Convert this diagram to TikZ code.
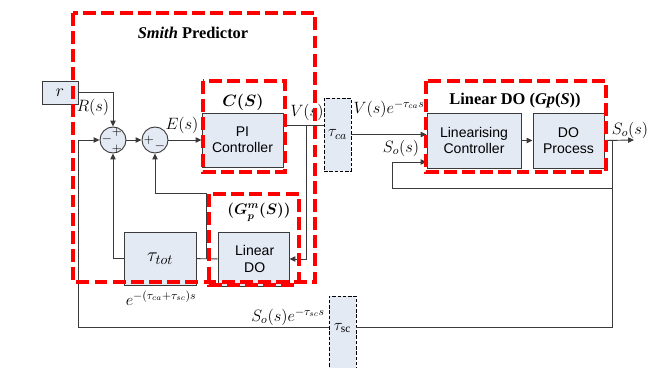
\RequirePackage{fix-cm}
\documentclass[tikz,border=0pt]{standalone}
\usepackage{fontspec}
\setmainfont{Liberation Serif}
\setsansfont{Liberation Sans}
\usepackage{amsmath}
\usetikzlibrary{arrows.meta, positioning, calc}
\definecolor{cfill}{HTML}{E4EAF4}
\definecolor{cline}{HTML}{3A3A3A}
\definecolor{cred}{HTML}{FF0000}
\tikzset{
  blk/.style={draw=cline, fill=cfill, line width=0.8pt, align=center, inner sep=0pt, font=\sffamily\fontsize{12}{14}\selectfont},
  dly/.style={draw=black, fill=cfill, line width=0.8pt, dash pattern=on 3pt off 1.5pt, inner sep=0pt, font=\fontsize{14}{16}\selectfont},
  sumj/.style={circle, draw=cline, fill=cfill, line width=0.8pt, minimum size=0.78cm, inner sep=0pt},
  sgn/.style={inner sep=0pt, font=\fontsize{11}{11}\selectfont},
  grp/.style={draw=cred, line width=2.8pt, dash pattern=on 11pt off 4.5pt},
  sig/.style={draw=cline, line width=0.8pt},
  arr/.style={sig, -{Triangle[length=5pt, width=4.5pt]}},
  lbl/.style={inner sep=1pt, font=\fontsize{14}{16}\selectfont},
  ttl/.style={inner sep=1pt, font=\bfseries\fontsize{14}{16}\selectfont},
}

\begin{document}
\begin{tikzpicture}[x=0.03cm, y=-0.03cm]
  \useasboundingbox (0,0) rectangle (650,367);
  % blocks
  \node[blk, minimum width=1.08cm, minimum height=0.69cm, font=\fontsize{15}{17}\selectfont] (r) at (60,92.5) {$r$};
  \node[sumj] (sum1) at (113,140) {};
  \node[sumj] (sum2) at (155,140) {};
  \node[blk, minimum width=2.43cm, minimum height=1.62cm] (pi) at (242.5,140) {PI\\Controller};
  \node[dly, minimum width=0.81cm, minimum height=2.19cm] (tca) at (337.5,134.5) {$\tau_{ca}$};
  \node[blk, minimum width=2.82cm, minimum height=1.65cm] (lin) at (474,140.5) {Linearising\\Controller};
  \node[blk, minimum width=2.13cm, minimum height=1.65cm] (dop) at (568.5,140.5) {DO\\Process};
  \node[blk, minimum width=2.13cm, minimum height=1.62cm] (ldo) at (253.5,259) {\,Linear\\\,DO};
  \node[blk, minimum width=2.16cm, minimum height=1.59cm, font=\fontsize{17}{19}\selectfont] (ttot) at (160,258.5) {$\tau_{tot}$};
  \node[dly, minimum width=0.81cm, minimum height=2.22cm] (tsc) at (342.5,333) {};
  \node[dly, draw=none, fill=none] (tsclbl) at (342.5,328) {$\tau_{\mathrm{sc}}$};
  % signs of the summing junctions
  \node[sgn] (s1a) at (107,139) {$-$};
  \node[sgn] (s1b) at (117,132) {$+$};
  \node[sgn] (s1c) at (117,149) {$+$};
  \node[sgn] (s2a) at (149,140) {$+$};
  \node[sgn] (s2b) at (160,146) {$-$};
  % coordinates of the wires
  \coordinate (vs) at (306,125);
  \coordinate (fb2) at (206,193);
  \coordinate (tap) at (612,140);
  \coordinate (out) at (634,140);
  \coordinate (fbl) at (392,188);
  \coordinate (fbo) at (612,327);
  \coordinate (fbi) at (78,327);
  % connectors
  \draw[arr] (r.east) -| (sum1.north);
  \draw[arr] (sum1) -- (sum2);
  \draw[arr] (sum2) -- (pi);
  \draw[sig] (pi.east |- vs) -- (tca.west |- vs);
  \draw[arr] (vs) |- (ldo.east);
  \draw[sig] (ldo) -- (ttot);
  \draw[arr] (fb2 |- ldo.west) -- (fb2) -| (sum2.south);
  \draw[arr] (ttot.west) -| (sum1.south);
  \draw[arr] (tca.east) -- (tca.east -| lin.west);
  \draw[arr] (lin) -- (dop);
  \draw[arr] (dop.east) -- (out);
  \draw[arr] (tap) |- (fbl) |- ($(lin.west)+(0,21.5)$);
  \draw[sig] (tap) -- (fbo) -- (fbo -| tsc.east);
  \draw[arr] (fbo -| tsc.west) -- (fbi) |- (sum1.west);
  % signal labels
  \node[lbl] (lR) at (93,107) {$R(s)$};
  \node[lbl] (lE) at (182,125) {$E(s)$};
  \node[lbl] (lV) at (307,112) {$V(s)$};
  \node[lbl] (lVd) at (389,109) {$V(s)e^{-\tau_{ca}s}$};
  \node[lbl] (lSo) at (401,148) {$S_o(s)$};
  \node[lbl] (lout) at (630,130) {$S_o(s)$};
  \node[lbl] (ltot) at (161,298) {$e^{-(\tau_{ca}+\tau_{sc})s}$};
  \node[lbl] (lSd) at (288,317) {$S_o(s)e^{-\tau_{sc}s}$};
  % groups
  \draw[grp] (73,13) rectangle (315,282);
  \draw[grp] (203,81) rectangle (285,172);
  \draw[grp] (209,194) rectangle (299,285);
  \draw[grp] (426,81) rectangle (606,172);
  \node[ttl] (tsp) at (193,33) {\textit{Smith} Predictor};
  \node[ttl] (tc) at (243,102) {$\boldsymbol{C(S)}$};
  \node[ttl, font=\bfseries\fontsize{13}{15}\selectfont] (tg) at (259,212) {$\boldsymbol{(G_p^m(S))}$};
  \node[ttl] (tl) at (515,101) {Linear DO (\textit{Gp}(\textit{S}))};
\end{tikzpicture}
\end{document}
